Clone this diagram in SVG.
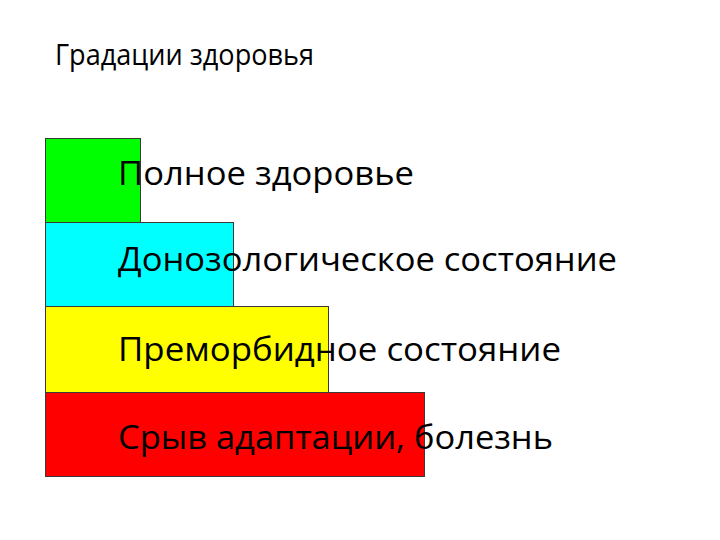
<svg xmlns="http://www.w3.org/2000/svg" width="720" height="540" viewBox="0 0 720 540">
<style>
.bar{stroke:#3a3a3a;stroke-width:1}
.lbl{font-family:"Open Sans","DejaVu Sans",sans-serif;font-size:33px;fill:#000}
.title{font-family:"Open Sans","DejaVu Sans",sans-serif;font-size:30px;fill:#000}
</style>
<rect width="720" height="540" fill="#fff"/>
<text class="title" x="55" y="65" textLength="259" lengthAdjust="spacingAndGlyphs">Градации здоровья</text>
<g id="n1"><rect class="bar" x="45.5" y="138.5" width="95" height="84" fill="#00ff00"/></g>
<g id="n2"><rect class="bar" x="45.5" y="222.5" width="188" height="84" fill="#00ffff"/></g>
<g id="n3"><rect class="bar" x="45.5" y="306.5" width="283" height="86" fill="#ffff00"/></g>
<g id="n4"><rect class="bar" x="45.5" y="392.5" width="379" height="84" fill="#ff0000"/></g>
<g id="labels">
<text class="lbl" x="118" y="185" textLength="296" lengthAdjust="spacingAndGlyphs">Полное здоровье</text>
<text class="lbl" x="118" y="271" textLength="499" lengthAdjust="spacingAndGlyphs">Донозологическое состояние</text>
<text class="lbl" x="118" y="361" textLength="443" lengthAdjust="spacingAndGlyphs">Преморбидное состояние</text>
<text class="lbl" x="118" y="449" textLength="435" lengthAdjust="spacingAndGlyphs">Срыв адаптации, болезнь</text>
</g>
</svg>
